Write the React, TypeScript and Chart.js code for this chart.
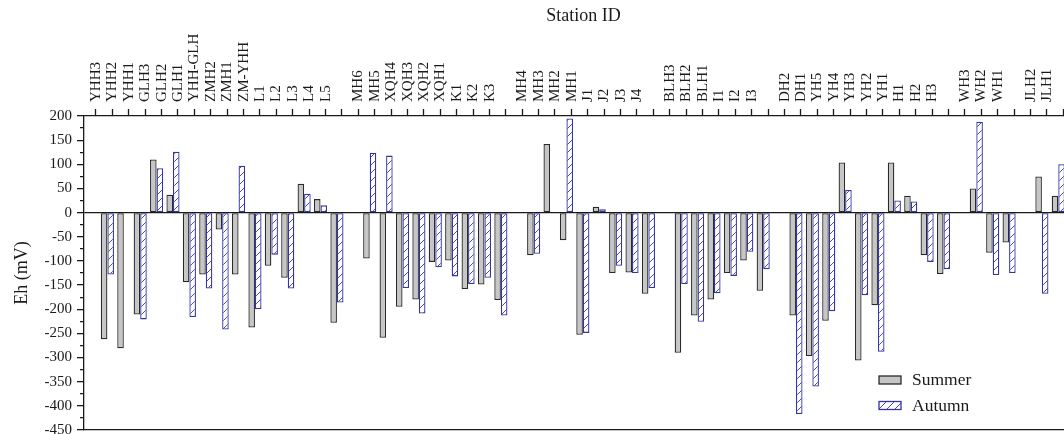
import React, { useEffect, useRef } from 'react';
import { Chart, registerables } from 'chart.js';

Chart.register(...registerables);

// Station IDs along the top axis ('' = empty gap slot)
const stations: string[] = [
  'YHH3', 'YHH2', 'YHH1', 'GLH3', 'GLH2', 'GLH1', 'YHH-GLH', 'ZMH2', 'ZMH1', 'ZM-YHH', 'L1', 'L2', 'L3', 'L4', 'L5', '',
  'MH6', 'MH5', 'XQH4', 'XQH3', 'XQH2', 'XQH1', 'K1', 'K2', 'K3', '',
  'MH4', 'MH3', 'MH2', 'MH1', 'J1', 'J2', 'J3', 'J4', '',
  'BLH3', 'BLH2', 'BLH1', 'I1', 'I2', 'I3', '',
  'DH2', 'DH1', 'YH5', 'YH4', 'YH3', 'YH2', 'YH1', 'H1', 'H2', 'H3', '',
  'WH3', 'WH2', 'WH1', '',
  'JLH2', 'JLH1',
];

// Eh (mV), summer
const summer: (number | null)[] = [
  -262, -281, -211, 110, 37, -144, -128, -35, -128, -238, -110, -135, 60, 28, -228, null,
  -95, -259, -195, -180, -102, -99, -158, -149, -181, null,
  -88, 142, -57, -253, 12, -125, -124, -168, null,
  -290, -213, -180, -125, -99, -162, null,
  -213, -297, -224, 104, -306, -192, 104, 35, -88, -127, null,
  50, -83, -62, null,
  75, 35,
];

// Eh (mV), autumn
const autumn: (number | null)[] = [
  -128, null, -221, 92, 126, -216, -157, -242, 97, -200, -87, -157, 39, 15, -186, null,
  124, 118, -156, -209, -113, -132, -148, -135, -213, null,
  -85, null, 195, -249, 7, -110, -125, -156, null,
  -148, -226, -167, -131, -81, -117, null,
  -417, -360, -204, 47, -171, -288, 25, 23, -102, -117, null,
  188, -129, -125, null,
  -168, 100,
];

const yTicksMin = -450;
const yTicksMax = 200;
const xMin = 0.28;
const xMax = 60.2;

const FONT = "'Liberation Serif', 'Times New Roman', serif";
const INK = '#1a1a1a';
const SUMMER_FILL = '#c6c6c6';
const SUMMER_BORDER = '#2a2a2a';
const AUTUMN_LINE = '#4b4bb4';
const AUTUMN_BORDER = '#3434a4';

function makeHatch(): CanvasPattern | string {
  const c = document.createElement('canvas');
  c.width = 8;
  c.height = 8;
  const g = c.getContext('2d');
  if (!g) return '#fff';
  g.fillStyle = '#ffffff';
  g.fillRect(0, 0, 8, 8);
  g.strokeStyle = AUTUMN_LINE;
  g.lineWidth = 1;
  g.beginPath();
  g.moveTo(0, 8);
  g.lineTo(8, 0);
  g.moveTo(-1, 1);
  g.lineTo(1, -1);
  g.moveTo(7, 9);
  g.lineTo(9, 7);
  g.stroke();
  const p = g.createPattern(c, 'repeat');
  return p || '#fff';
}

const legendPlugin = {
  id: 'insideLegend',
  afterDraw(chart: any) {
    const { ctx, chartArea } = chart;
    const items = [
      { label: 'Summer', ds: chart.data.datasets[1] },
      { label: 'Autumn', ds: chart.data.datasets[2] },
    ];
    const bx = chartArea.left + 795;
    const by0 = chartArea.top + 260;
    ctx.save();
    items.forEach((it, i) => {
      const y = by0 + i * 25.5;
      ctx.fillStyle = it.ds.backgroundColor;
      ctx.fillRect(bx, y, 22, 8);
      ctx.strokeStyle = it.ds.borderColor;
      ctx.lineWidth = 1.3;
      ctx.strokeRect(bx, y, 22, 8);
      ctx.fillStyle = INK;
      ctx.font = `17.5px ${FONT}`;
      ctx.textBaseline = 'middle';
      ctx.textAlign = 'left';
      ctx.fillText(it.label, bx + 33, y + 4.5);
    });
    ctx.restore();
  },
};

export default function App() {
  const ref = useRef<HTMLCanvasElement | null>(null);

  useEffect(() => {
    if (!ref.current) return;
    const hatch = makeHatch();
    const toPoints = (arr: (number | null)[]) => arr.map((v, i) => ({ x: i + 1, y: v }));

    const chart = new Chart(ref.current, {
      type: 'bar',
      data: {
        datasets: [
          { label: '', data: [], backgroundColor: 'rgba(0,0,0,0)' } as any,
          {
            label: 'Summer',
            data: toPoints(summer) as any,
            backgroundColor: SUMMER_FILL,
            borderColor: SUMMER_BORDER,
            borderWidth: 1.3,
            borderSkipped: false,
          },
          {
            label: 'Autumn',
            data: toPoints(autumn) as any,
            backgroundColor: hatch as any,
            borderColor: AUTUMN_BORDER,
            borderWidth: 1.3,
            borderSkipped: false,
          },
        ],
      },
      options: {
        responsive: false,
        animation: false,
        devicePixelRatio: 1,
        categoryPercentage: 1.2,
        barPercentage: 1,
        layout: { padding: 0 },
        plugins: {
          legend: { display: false },
          tooltip: { enabled: false },
          title: { display: false },
        },
        scales: {
          x: {
            type: 'linear',
            position: 'top',
            min: xMin,
            max: xMax,
            afterFit: (s: any) => {
              s.height = 116;
            },
            border: { display: true, color: INK, width: 1.3 },
            grid: {
              drawOnChartArea: false,
              drawTicks: true,
              tickLength: 7,
              tickColor: INK,
              tickWidth: 1.3,
            },
            ticks: {
              stepSize: 1,
              autoSkip: false,
              includeBounds: false,
              maxRotation: 90,
              minRotation: 90,
              padding: 7,
              labelOffset: 10,
              color: INK,
              font: { family: FONT, size: 15 },
              callback: (v: any) => stations[Math.round(Number(v)) - 1] ?? '',
            },
            title: {
              display: true,
              text: 'Station ID',
              color: INK,
              font: { family: FONT, size: 18 },
              padding: { top: 5, bottom: 0 },
            },
          },
          xb: {
            type: 'linear',
            axis: 'x',
            position: 'bottom',
            min: xMin,
            max: xMax,
            afterFit: (s: any) => {
              s.height = 4;
            },
            border: { display: true, color: INK, width: 1.3 },
            grid: { drawOnChartArea: false, drawTicks: false },
            ticks: { display: false, stepSize: 1 },
          },
          y: {
            type: 'linear',
            position: 'left',
            min: yTicksMin,
            max: yTicksMax,
            afterFit: (s: any) => {
              s.width = 84;
              s.paddingTop = 0;
              s.paddingBottom = 0;
            },
            border: { display: true, color: INK, width: 1.3 },
            grid: {
              color: (c: any) => (c.tick && c.tick.value === 0 ? INK : 'rgba(0,0,0,0)'),
              lineWidth: 1.3,
              tickColor: INK,
              tickWidth: 1.3,
              tickLength: 7,
              tickBorderDash: (c: any) => (c.tick && c.tick.value % 50 === 0 ? [] : [0, 3, 4, 100]),
            },
            ticks: {
              stepSize: 25,
              autoSkip: false,
              padding: 5,
              color: INK,
              font: { family: FONT, size: 15 },
              callback: (v: any) => (Number(v) % 50 === 0 ? String(v) : ''),
            },
            title: {
              display: true,
              text: 'Eh (mV)',
              color: INK,
              font: { family: FONT, size: 18 },
              padding: { top: 11, bottom: 0 },
            },
          },
        } as any,
      },
      plugins: [legendPlugin],
    });

    return () => chart.destroy();
  }, []);

  return (
    <div
      style={{
        position: 'absolute',
        left: 0,
        top: 0,
        width: 1064,
        height: 434,
        overflow: 'hidden',
        background: '#fff',
      }}
    >
      <canvas ref={ref} width={1083} height={434} style={{ display: 'block', width: 1083, height: 434 }} />
    </div>
  );
}
